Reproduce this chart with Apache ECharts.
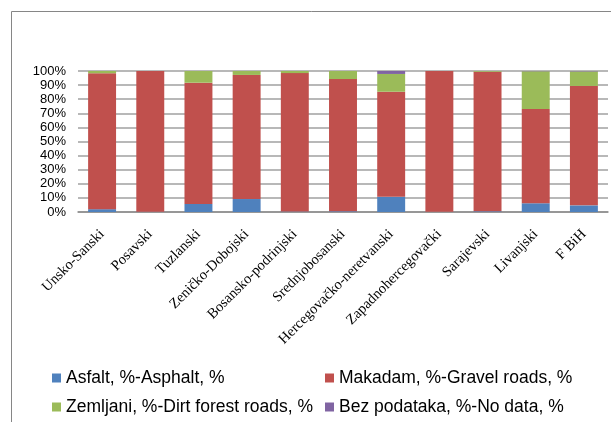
<!DOCTYPE html>
<html>
<head>
<meta charset="utf-8">
<script src="https://cdn.jsdelivr.net/npm/echarts@6/dist/echarts.min.js"></script>
<style>
  html, body { margin: 0; padding: 0; background: #fff; }
  #chart { width: 611px; height: 422px; }
</style>
</head>
<body>
<div id="chart"></div>
<script>
// kantoni
var categories = ['Unsko-Sanski', 'Posavski', 'Tuzlanski', 'Zeničko-Dobojski', 'Bosansko-podrinjski',
  'Srednjobosanski', 'Hercegovačko-neretvanski', 'Zapadnohercegovački', 'Sarajevski', 'Livanjski', 'F BiH'];

var asfalt = [2.0, 0.2, 5.7, 9.2, 0.3, 0.5, 10.8, 0.1, 0.5, 6.2, 4.7];
var makadam = [96.4, 99.8, 86.0, 88.0, 98.2, 93.8, 74.5, 99.9, 99.0, 66.8, 84.7];
var zemljani = [1.6, 0.0, 8.3, 2.8, 1.5, 5.7, 12.6, 0.0, 0.5, 26.8, 10.3];
var bezPodataka = [0.0, 0.0, 0.0, 0.0, 0.0, 0.0, 2.1, 0.0, 0.0, 0.2, 0.3];

var yTicks = [0, 10, 20, 30, 40, 50, 60, 70, 80, 90, 100];

var names = ['Asfalt, %-Asphalt, %', 'Makadam, %-Gravel roads, %',
  'Zemljani, %-Dirt forest roads, %', 'Bez podataka, %-No data, %'];
var colors = ['#4F81BD', '#C0504D', '#9BBB59', '#8064A2'];

var myChart = echarts.init(document.getElementById('chart'));

function bar(name, data) {
  return {
    name: name,
    type: 'bar',
    stack: 'uk',
    barWidth: '58%',
    data: data
  };
}

var legendText = { fontFamily: 'Liberation Sans', fontSize: 17.5, lineHeight: 18, color: '#000' };

var option = {
  animation: false,
  color: colors,
  graphic: [{
    type: 'rect',
    shape: { x: 11.5, y: 11.5, width: 620, height: 430 },
    style: { fill: 'none', stroke: '#868686', lineWidth: 1 }
  }],
  grid: { left: 78, right: 3, top: 71, bottom: 210 },
  legend: [{
    orient: 'vertical',
    left: 47, top: 364,
    itemWidth: 9, itemHeight: 9, itemGap: 11, itemTextGap: 4,
    icon: 'rect',
    textStyle: legendText,
    data: [names[0], names[2]]
  }, {
    orient: 'vertical',
    left: 320, top: 364,
    itemWidth: 9, itemHeight: 9, itemGap: 11, itemTextGap: 4,
    icon: 'rect',
    textStyle: legendText,
    data: [names[1], names[3]]
  }],
  xAxis: {
    type: 'category',
    data: categories,
    axisLine: { lineStyle: { color: '#8c8c8c', width: 1.5 } },
    axisTick: { show: false },
    axisLabel: {
      interval: 0,
      rotate: 45,
      margin: 20,
      fontFamily: 'Liberation Serif',
      fontSize: 14.5,
      color: '#000'
    }
  },
  yAxis: {
    type: 'value',
    min: yTicks[0],
    max: yTicks[yTicks.length - 1],
    interval: yTicks[1] - yTicks[0],
    axisLine: { show: false },
    axisTick: { show: false },
    splitLine: { lineStyle: { color: '#a0a0a0', width: 1.5 } },
    axisLabel: {
      formatter: '{value}%',
      margin: 12,
      fontFamily: 'Liberation Sans',
      fontSize: 13,
      color: '#000'
    }
  },
  series: [
    bar(names[0], asfalt),
    bar(names[1], makadam),
    bar(names[2], zemljani),
    bar(names[3], bezPodataka)
  ]
};

myChart.setOption(option);
</script>
</body>
</html>
